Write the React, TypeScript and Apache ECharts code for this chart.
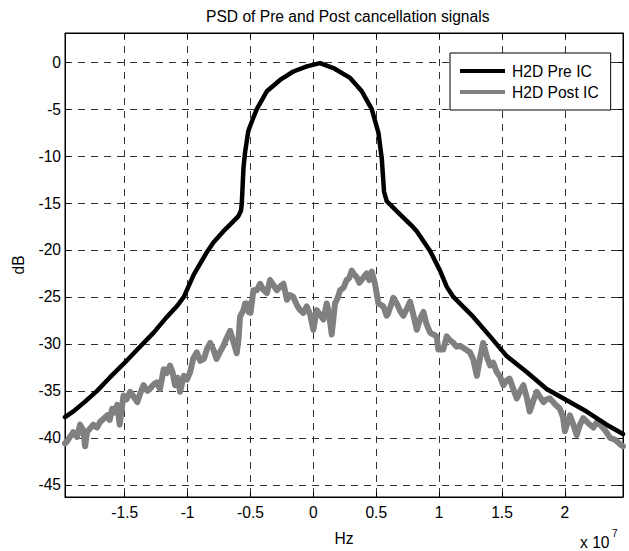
import React, { useEffect, useRef } from "react";
import * as echarts from "echarts";

const titleText = "PSD of Pre and Post cancellation signals";
const seriesNames = ["H2D Pre IC", "H2D Post IC"];
const xName = "Hz";
const yName = "dB";
const xExtent = [-1.975, 2.462];
const yExtent = [-46.3, 3.1];

// x in units of 1e7 Hz, y in dB
const preIC: number[][] = [
  [-1.975, -37.8], [-1.9, -37.1], [-1.82, -36.2], [-1.72, -35.0], [-1.62, -33.6],
  [-1.5, -32.0], [-1.4, -30.6], [-1.27, -28.8], [-1.17, -27.2], [-1.086, -26.0],
  [-1.03, -25.0], [-0.95, -22.6], [-0.85, -20.3], [-0.795, -19.2], [-0.715, -18.0],
  [-0.662, -17.3], [-0.596, -16.4], [-0.575, -15.8], [-0.569, -15.0], [-0.556, -11.3],
  [-0.543, -9.6], [-0.517, -7.3], [-0.48, -6.0], [-0.45, -5.0], [-0.37, -3.1],
  [-0.265, -1.9], [-0.159, -1.0], [-0.052, -0.46], [0.053, -0.1], [0.159, -0.63],
  [0.292, -1.68], [0.385, -3.1], [0.464, -5.0], [0.517, -7.5], [0.544, -10.3],
  [0.562, -13.8], [0.583, -14.8], [0.689, -16.2], [0.795, -17.6], [0.822, -18.0],
  [0.928, -20.1], [1.007, -22.2], [1.06, -23.9], [1.113, -25.0], [1.27, -27.1],
  [1.405, -29.2], [1.537, -31.3], [1.696, -33.0], [1.855, -34.8], [2.014, -36.0],
  [2.173, -37.2], [2.332, -38.6], [2.462, -39.6],
];

const postIC: number[][] = [
  [-1.975, -40.6], [-1.96, -40.4], [-1.93, -39.8], [-1.91, -39.4], [-1.88, -39.9],
  [-1.855, -38.6], [-1.83, -39.2], [-1.815, -40.9], [-1.8, -39.4], [-1.775, -39.0],
  [-1.75, -38.6], [-1.72, -38.9], [-1.696, -38.3], [-1.67, -38.0], [-1.64, -37.6],
  [-1.62, -38.1], [-1.6, -36.9], [-1.58, -37.3], [-1.56, -36.5], [-1.54, -38.6],
  [-1.525, -37.0], [-1.51, -35.5], [-1.485, -35.9], [-1.457, -35.1], [-1.43, -35.6],
  [-1.4, -36.2], [-1.375, -35.2], [-1.35, -34.4], [-1.32, -35.0], [-1.3, -34.8],
  [-1.27, -34.3], [-1.245, -34.1], [-1.22, -34.8], [-1.19, -32.7], [-1.165, -33.1],
  [-1.14, -32.3], [-1.12, -33.0], [-1.1, -34.4], [-1.08, -33.6], [-1.06, -35.1],
  [-1.03, -33.4], [-1.005, -33.8], [-0.98, -33.0], [-0.954, -31.5], [-0.927, -30.9],
  [-0.9, -31.8], [-0.87, -31.6], [-0.845, -30.5], [-0.82, -29.9], [-0.795, -30.6],
  [-0.77, -31.6], [-0.74, -30.8], [-0.715, -30.2], [-0.69, -29.4], [-0.662, -28.6],
  [-0.635, -29.8], [-0.61, -31.0], [-0.595, -29.5], [-0.583, -27.1], [-0.556, -26.4],
  [-0.543, -25.7], [-0.53, -25.7], [-0.515, -26.6], [-0.5, -26.7], [-0.477, -24.3],
  [-0.45, -24.3], [-0.424, -23.6], [-0.4, -24.2], [-0.37, -24.6], [-0.344, -23.2],
  [-0.315, -23.8], [-0.29, -24.3], [-0.265, -23.9], [-0.238, -23.6], [-0.21, -25.3],
  [-0.185, -24.8], [-0.16, -25.0], [-0.13, -25.9], [-0.106, -26.4], [-0.08, -26.7],
  [-0.053, -26.0], [-0.025, -26.9], [0.0, -28.5], [0.026, -26.4], [0.053, -26.9],
  [0.08, -27.4], [0.106, -25.7], [0.125, -26.8], [0.146, -29.0], [0.172, -25.7],
  [0.19, -25.2], [0.212, -24.3], [0.24, -24.0], [0.265, -23.2], [0.285, -23.0],
  [0.305, -22.2], [0.325, -22.6], [0.345, -22.9], [0.365, -23.5], [0.384, -23.2],
  [0.405, -22.8], [0.424, -22.5], [0.445, -23.2], [0.464, -22.3], [0.49, -23.6],
  [0.517, -25.7], [0.53, -25.8], [0.556, -26.0], [0.583, -27.0], [0.596, -26.7],
  [0.636, -25.1], [0.663, -25.7], [0.69, -26.5], [0.716, -27.0], [0.745, -26.2],
  [0.769, -25.5], [0.795, -26.9], [0.822, -28.5], [0.85, -27.3], [0.875, -26.6],
  [0.9, -27.9], [0.928, -28.8], [0.955, -29.0], [0.98, -29.2], [0.994, -30.6],
  [1.033, -30.6], [1.06, -29.2], [1.085, -29.6], [1.113, -29.9], [1.14, -30.3],
  [1.166, -30.2], [1.2, -30.5], [1.245, -30.9], [1.27, -31.6], [1.3, -33.4],
  [1.325, -31.5], [1.35, -29.9], [1.38, -31.4], [1.405, -32.3], [1.43, -32.0],
  [1.458, -33.0], [1.485, -33.5], [1.51, -34.4], [1.535, -33.9], [1.56, -33.7],
  [1.59, -34.8], [1.617, -35.8], [1.645, -35.0], [1.67, -34.4], [1.695, -35.6],
  [1.72, -37.2], [1.75, -36.0], [1.776, -35.1], [1.8, -35.6], [1.83, -36.2],
  [1.855, -35.9], [1.88, -35.8], [1.92, -36.4], [1.96, -36.9], [1.985, -37.8],
  [2.0, -39.3], [2.02, -38.4], [2.04, -37.6], [2.065, -38.5], [2.094, -39.7],
  [2.12, -38.6], [2.146, -37.9], [2.19, -38.5], [2.226, -38.9], [2.25, -38.4],
  [2.28, -38.6], [2.32, -39.2], [2.36, -40.0], [2.4, -40.2], [2.44, -40.7],
  [2.462, -40.9],
];

const FONT = "'Liberation Sans', Arial, Helvetica, sans-serif";

function multipleLabel(step: number) {
  return (v: number) => {
    const r = v / step;
    return Math.abs(r - Math.round(r)) < 1e-6 ? String(Math.round(r * step * 100) / 100) : "";
  };
}

export default function App() {
  const ref = useRef<HTMLDivElement>(null);
  useEffect(() => {
    if (!ref.current) return;
    const chart = echarts.init(ref.current, undefined, { renderer: "svg" });
    const gridLine = { show: true, lineStyle: { color: "#333", width: 1, type: [7, 6] as any } };
    const axisLineStyle = { show: true, onZero: false, lineStyle: { color: "#000", width: 1 } };
    const tickStyle = { show: true, inside: true, length: 5, lineStyle: { color: "#000" } };
    const baseX = {
      type: "value" as const,
      min: xExtent[0],
      max: xExtent[1],
      splitNumber: 9,
      minInterval: 0.5,
      maxInterval: 0.5,
    };
    const baseY = {
      type: "value" as const,
      min: yExtent[0],
      max: yExtent[1],
      splitNumber: 10,
      minInterval: 5,
      maxInterval: 5,
    };
    chart.setOption({
      animation: false,
      backgroundColor: "#ffffff",
      textStyle: { fontFamily: FONT },
      title: {
        text: titleText,
        left: 201,
        top: 3,
        textStyle: { fontSize: 15.6, fontWeight: "normal", color: "#000", fontFamily: FONT },
      },
      legend: {
        data: seriesNames.map((n) => ({ name: n, icon: "rect" })),
        orient: "vertical",
        left: 450,
        top: 53,
        backgroundColor: "#fff",
        borderColor: "#000",
        borderWidth: 1,
        borderRadius: 0,
        padding: [10, 12, 10, 10],
        itemGap: 5,
        itemWidth: 45,
        itemHeight: 4,
        textStyle: { fontSize: 15.6, color: "#000", fontFamily: FONT, padding: [0, 0, 0, 2] },
      },
      grid: {
        left: 65,
        top: 33,
        width: 558,
        height: 470,
        show: true,
        borderColor: "#000",
        borderWidth: 1,
        backgroundColor: "#fff",
        containLabel: false,
      },
      xAxis: [
        {
          ...baseX,
          position: "bottom",
          name: xName,
          nameLocation: "middle",
          nameGap: 33,
          nameTextStyle: { fontSize: 15.6, color: "#000", fontFamily: FONT },
          axisLine: axisLineStyle,
          axisTick: tickStyle,
          axisLabel: {
            show: true,
            showMinLabel: false,
            showMaxLabel: false,
            margin: 7,
            fontSize: 15.6,
            color: "#000",
            fontFamily: FONT,
            formatter: multipleLabel(0.5),
          },
          splitLine: gridLine,
        },
        {
          ...baseX,
          position: "top",
          axisLine: axisLineStyle,
          axisTick: tickStyle,
          axisLabel: { show: false },
          splitLine: { show: false },
        },
      ],
      yAxis: [
        {
          ...baseY,
          position: "left",
          name: yName,
          nameLocation: "middle",
          nameGap: 39,
          nameRotate: 90,
          nameTextStyle: { fontSize: 15.6, color: "#000", fontFamily: FONT },
          axisLine: axisLineStyle,
          axisTick: tickStyle,
          axisLabel: {
            show: true,
            showMinLabel: false,
            showMaxLabel: false,
            margin: 4,
            fontSize: 15.6,
            color: "#000",
            fontFamily: FONT,
            formatter: multipleLabel(5),
          },
          splitLine: gridLine,
        },
        {
          ...baseY,
          position: "right",
          axisLine: axisLineStyle,
          axisTick: tickStyle,
          axisLabel: { show: false },
          splitLine: { show: false },
        },
      ],
      graphic: [
        {
          type: "text",
          left: 580,
          top: 534,
          style: { text: "x 10", fontSize: 15.6, fill: "#000", fontFamily: FONT },
        },
        {
          type: "text",
          left: 612,
          top: 528,
          style: { text: "7", fontSize: 10, fill: "#000", fontFamily: FONT },
        },
      ],
      series: [
        {
          name: seriesNames[0],
          type: "line",
          data: preIC,
          xAxisIndex: 0,
          yAxisIndex: 0,
          showSymbol: false,
          symbol: "none",
          z: 4,
          lineStyle: { color: "#000", width: 4.5, join: "round", cap: "round" },
          itemStyle: { color: "#000" },
        },
        {
          name: seriesNames[1],
          type: "line",
          data: postIC,
          xAxisIndex: 0,
          yAxisIndex: 0,
          showSymbol: false,
          symbol: "none",
          z: 3,
          lineStyle: { color: "#808080", width: 6, join: "round", cap: "round" },
          itemStyle: { color: "#808080" },
        },
      ],
    });
    return () => chart.dispose();
  }, []);
  return (
    <div
      ref={ref}
      style={{ position: "fixed", left: 0, top: 0, width: 629, height: 551, background: "#fff" }}
    />
  );
}
